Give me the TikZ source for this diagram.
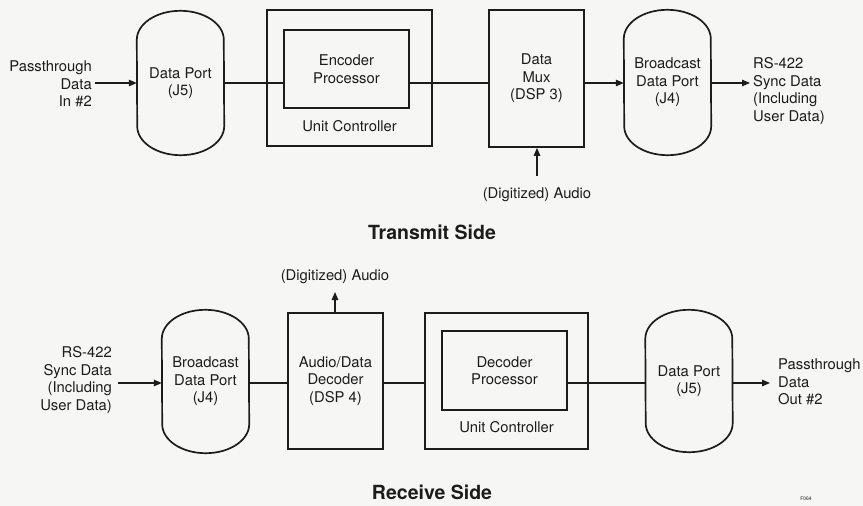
\documentclass[tikz,border=0pt]{standalone}
\usepackage{fontspec}
\setmainfont{TeX Gyre Heros}
\usetikzlibrary{arrows.meta,calc}
\definecolor{ink}{HTML}{1C1C1C}
\definecolor{paper}{HTML}{F6F6F4}
\newcommand\stadiumline[1]{%
  \draw[boxline] ([yshift=-29]#1.north west) arc[start angle=180,end angle=360,x radius=43.5,y radius=29]
    -- ([yshift=29]#1.south east) arc[start angle=0,end angle=180,x radius=43.5,y radius=29] -- cycle;}
\begin{document}
\begin{tikzpicture}[x=1pt,y=-1pt,
  every node/.style={font=\fontsize{14.8}{17.5}\selectfont, text=ink, inner sep=0pt},
  boxline/.style={draw=ink, line width=1.7pt},
  box/.style={boxline, rectangle},
  stad/.style={rectangle, align=center},
  conn/.style={draw=ink, line width=1.3pt},
  arr/.style={conn, -{Triangle[length=8pt,width=6.5pt]}},
  title/.style={font=\fontsize{19.5}{22}\selectfont\bfseries}]
\fill[paper] (0,0) rectangle (863,506);
\useasboundingbox (0,0) rectangle (863,506);

% ---------- Transmit side ----------
\node[stad, minimum width=87, minimum height=144] (dp1) at (180.5,83) {Data Port\\(J5)};
\stadiumline{dp1}
\node[box, minimum width=165, minimum height=136] (uc1) at (349.5,78) {};
\node[box, minimum width=125, minimum height=78, align=center] (enc) at (346.5,69) {Encoder\\Processor};
\node (uc1lbl) at (349.5,126) {Unit Controller};
\node[box, minimum width=95, minimum height=137, align=center] (mux) at (536.5,78.5) {Data\\Mux\\(DSP 3)};
\node[stad, minimum width=87, minimum height=145] (bdp1) at (667.5,82.5) {Broadcast\\Data Port\\(J4)};
\stadiumline{bdp1}

\node[align=right, anchor=east] (in1) at (92,84) {Passthrough\\Data\\In \#2};
\node[align=left, anchor=west] (out1) at (753,91) {RS-422\\Sync Data\\(Including\\User Data)};
\node (aud1) at (537,195) {(Digitized) Audio};
\coordinate (in1e) at (95,83);
\coordinate (out1e) at (750,83);
\coordinate (aud1e) at (537,176);

\draw[arr] (in1e) -- (in1e -| dp1.west);
\draw[conn] (dp1.east |- in1e) -- (enc.west |- in1e);
\draw[conn] (enc.east |- in1e) -- (mux.west |- in1e);
\draw[arr] (mux.east |- in1e) -- (bdp1.west |- in1e);
\draw[arr] (bdp1.east |- in1e) -- (out1e);
\draw[arr] (aud1e) -- (aud1e |- mux.south);

\node[title] (tx) at (432,232) {Transmit Side};

% ---------- Receive side ----------
\node[stad, minimum width=87, minimum height=143] (bdp2) at (205.5,381.5) {Broadcast\\Data Port\\(J4)};
\stadiumline{bdp2}
\node[box, minimum width=95, minimum height=136, align=center] (dec) at (335.5,381) {Audio/Data\\Decoder\\(DSP 4)};
\node[box, minimum width=163, minimum height=136] (uc2) at (506.5,381) {};
\node[box, minimum width=125, minimum height=79, align=center] (decp) at (504.5,370.5) {Decoder\\Processor};
\node (uc2lbl) at (506.5,427) {Unit Controller};
\node[stad, minimum width=87, minimum height=142] (dp2) at (689,381) {Data Port\\(J5)};
\stadiumline{dp2}

\node[align=right, anchor=east] (in2) at (112,380) {RS-422\\Sync Data\\(Including\\User Data)};
\node[align=left, anchor=west] (out2) at (778,382) {Passthrough\\Data\\Out \#2};
\node (aud2) at (335,277) {(Digitized) Audio};
\coordinate (in2e) at (118,383);
\coordinate (out2e) at (770,383);
\coordinate (aud2e) at (335,292);

\draw[arr] (in2e) -- (in2e -| bdp2.west);
\draw[conn] (bdp2.east |- in2e) -- (dec.west |- in2e);
\draw[conn] (dec.east |- in2e) -- (uc2.west |- in2e);
\draw[conn] (decp.east |- in2e) -- (dp2.west |- in2e);
\draw[arr] (dp2.east |- in2e) -- (out2e);
\draw[arr] (dec.north -| aud2e) -- (aud2e);

\node[title] (rx) at (432,492) {Receive Side};
\node[font=\fontsize{5}{6}\selectfont] (fig) at (806,499) {F064};
\end{tikzpicture}
\end{document}
